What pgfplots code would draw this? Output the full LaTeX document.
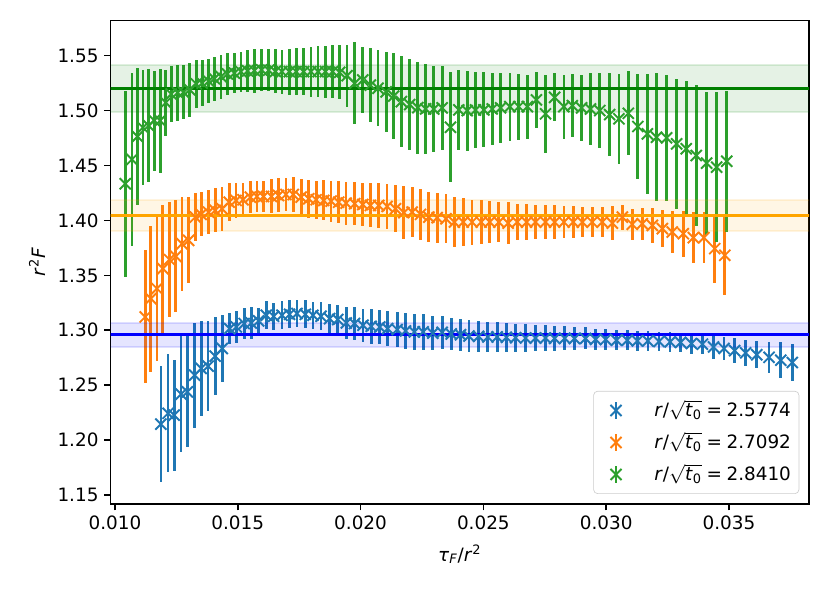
\documentclass[border=0pt]{standalone}
\usepackage{fontspec}
\setmainfont{DejaVu Sans}
\usepackage{pgfplots}
\pgfplotsset{compat=1.18}
\usepackage{pgfplotstable}
\definecolor{tabblue}{HTML}{1F77B4}
\definecolor{taborange}{HTML}{FF7F0E}
\definecolor{tabgreen}{HTML}{2CA02C}
\definecolor{lblue}{HTML}{0000FF}
\definecolor{lorange}{HTML}{FFA500}
\definecolor{lgreen}{HTML}{008000}
\newcommand\fnt{\fontsize{11.5}{13.8}\selectfont}
\newcommand\sfnt{\fontsize{8.1}{9.5}\selectfont}

\pgfplotstableread{
x y e
0.01187 1.2145 0.0530
0.01216 1.2243 0.0536
0.01241 1.2227 0.0506
0.01269 1.2418 0.0530
0.01295 1.2439 0.0506
0.01324 1.2591 0.0477
0.01351 1.2652 0.0436
0.01379 1.2673 0.0412
0.01408 1.2764 0.0355
0.01437 1.2834 0.0309
0.01467 1.3015 0.0141
0.01494 1.3030 0.0145
0.01526 1.3061 0.0145
0.01555 1.3066 0.0145
0.01585 1.3085 0.0121
0.01616 1.3136 0.0127
0.01646 1.3127 0.0125
0.01680 1.3136 0.0127
0.01711 1.3145 0.0127
0.01741 1.3152 0.0127
0.01775 1.3145 0.0127
0.01806 1.3136 0.0125
0.01839 1.3127 0.0127
0.01874 1.3106 0.0134
0.01907 1.3097 0.0136
0.01942 1.3066 0.0144
0.01975 1.3061 0.0152
0.02010 1.3045 0.0152
0.02043 1.3036 0.0159
0.02078 1.3030 0.0157
0.02110 1.3015 0.0156
0.02149 1.3006 0.0156
0.02183 1.2994 0.0162
0.02219 1.2985 0.0161
0.02255 1.2985 0.0162
0.02294 1.2973 0.0155
0.02332 1.2980 0.0147
0.02369 1.2966 0.0148
0.02407 1.2959 0.0147
0.02441 1.2947 0.0144
0.02481 1.2944 0.0141
0.02518 1.2939 0.0136
0.02556 1.2939 0.0136
0.02594 1.2935 0.0132
0.02631 1.2932 0.0129
0.02672 1.2929 0.0125
0.02712 1.2929 0.0116
0.02753 1.2929 0.0116
0.02790 1.2925 0.0112
0.02831 1.2927 0.0109
0.02871 1.2925 0.0106
0.02916 1.2925 0.0100
0.02957 1.2916 0.0098
0.02998 1.2916 0.0098
0.03042 1.2909 0.0091
0.03086 1.2909 0.0091
0.03127 1.2903 0.0091
0.03170 1.2903 0.0091
0.03215 1.2898 0.0086
0.03260 1.2894 0.0091
0.03303 1.2889 0.0086
0.03347 1.2879 0.0091
0.03392 1.2873 0.0091
0.03437 1.2848 0.0106
0.03480 1.2834 0.0106
0.03523 1.2814 0.0111
0.03568 1.2794 0.0121
0.03613 1.2777 0.0125
0.03663 1.2753 0.0141
0.03711 1.2727 0.0166
0.03758 1.2706 0.0166
}\bluedata

\pgfplotstableread{
x y e
0.01123 1.3121 0.0606
0.01146 1.3288 0.0664
0.01171 1.3379 0.0655
0.01195 1.3561 0.0582
0.01222 1.3643 0.0527
0.01248 1.3673 0.0509
0.01273 1.3788 0.0427
0.01300 1.3818 0.0391
0.01327 1.4030 0.0218
0.01351 1.4055 0.0200
0.01381 1.4075 0.0200
0.01408 1.4091 0.0200
0.01436 1.4106 0.0200
0.01465 1.4166 0.0173
0.01493 1.4182 0.0159
0.01521 1.4188 0.0155
0.01551 1.4212 0.0145
0.01578 1.4218 0.0145
0.01605 1.4218 0.0145
0.01637 1.4218 0.0155
0.01666 1.4227 0.0155
0.01696 1.4236 0.0150
0.01726 1.4236 0.0157
0.01758 1.4212 0.0162
0.01789 1.4197 0.0173
0.01819 1.4188 0.0175
0.01850 1.4182 0.0182
0.01880 1.4175 0.0186
0.01911 1.4166 0.0194
0.01941 1.4157 0.0197
0.01976 1.4152 0.0197
0.02009 1.4145 0.0197
0.02040 1.4136 0.0200
0.02074 1.4136 0.0205
0.02108 1.4127 0.0206
0.02142 1.4106 0.0212
0.02176 1.4071 0.0239
0.02210 1.4075 0.0227
0.02244 1.4055 0.0234
0.02278 1.4030 0.0227
0.02312 1.4025 0.0227
0.02348 1.4015 0.0225
0.02382 1.3985 0.0227
0.02418 1.3985 0.0221
0.02454 1.3985 0.0205
0.02491 1.3985 0.0197
0.02526 1.3985 0.0191
0.02563 1.3985 0.0182
0.02601 1.3975 0.0189
0.02638 1.3985 0.0166
0.02676 1.3985 0.0164
0.02712 1.3985 0.0156
0.02753 1.3985 0.0156
0.02790 1.3985 0.0152
0.02828 1.3985 0.0147
0.02866 1.3985 0.0147
0.02903 1.3985 0.0139
0.02943 1.3985 0.0136
0.02984 1.3985 0.0139
0.03025 1.3975 0.0152
0.03066 1.4030 0.0114
0.03106 1.3964 0.0144
0.03147 1.3970 0.0144
0.03188 1.3955 0.0159
0.03229 1.3925 0.0166
0.03269 1.3894 0.0189
0.03314 1.3879 0.0209
0.03355 1.3843 0.0232
0.03398 1.3843 0.0232
0.03442 1.3743 0.0309
0.03483 1.3682 0.0364
}\orangedata

\pgfplotstableread{
x y e
0.01042 1.4334 0.0845
0.01069 1.4555 0.0791
0.01092 1.4764 0.0627
0.01114 1.4845 0.0527
0.01137 1.4864 0.0518
0.01160 1.4909 0.0455
0.01184 1.4909 0.0473
0.01207 1.5073 0.0300
0.01229 1.5150 0.0255
0.01255 1.5164 0.0255
0.01279 1.5166 0.0245
0.01304 1.5191 0.0245
0.01331 1.5243 0.0218
0.01355 1.5250 0.0209
0.01381 1.5268 0.0200
0.01405 1.5291 0.0200
0.01432 1.5309 0.0200
0.01458 1.5334 0.0191
0.01486 1.5341 0.0182
0.01513 1.5355 0.0182
0.01540 1.5361 0.0191
0.01568 1.5364 0.0200
0.01597 1.5370 0.0191
0.01626 1.5368 0.0191
0.01653 1.5357 0.0200
0.01680 1.5355 0.0200
0.01710 1.5355 0.0209
0.01738 1.5355 0.0214
0.01768 1.5355 0.0214
0.01798 1.5355 0.0227
0.01827 1.5355 0.0232
0.01857 1.5355 0.0236
0.01886 1.5355 0.0245
0.01915 1.5348 0.0245
0.01945 1.5318 0.0282
0.01976 1.5248 0.0373
0.02009 1.5279 0.0300
0.02040 1.5232 0.0336
0.02071 1.5203 0.0345
0.02104 1.5171 0.0364
0.02135 1.5132 0.0391
0.02166 1.5082 0.0418
0.02200 1.5055 0.0418
0.02233 1.5027 0.0418
0.02265 1.5015 0.0409
0.02298 1.5015 0.0391
0.02332 1.5025 0.0382
0.02366 1.4848 0.0500
0.02400 1.5006 0.0368
0.02434 1.5000 0.0364
0.02468 1.5006 0.0345
0.02502 1.5006 0.0341
0.02536 1.5015 0.0327
0.02570 1.5025 0.0318
0.02608 1.5036 0.0309
0.02644 1.5036 0.0300
0.02679 1.5036 0.0291
0.02716 1.5097 0.0255
0.02753 1.4970 0.0355
0.02790 1.5121 0.0218
0.02828 1.5036 0.0291
0.02862 1.5045 0.0288
0.02900 1.5025 0.0300
0.02936 1.5015 0.0327
0.02974 1.5000 0.0339
0.03014 1.4964 0.0379
0.03052 1.4925 0.0409
0.03090 1.4975 0.0382
0.03129 1.4855 0.0477
0.03168 1.4788 0.0545
0.03205 1.4757 0.0582
0.03246 1.4752 0.0573
0.03287 1.4697 0.0591
0.03326 1.4652 0.0618
0.03367 1.4591 0.0641
0.03409 1.4521 0.0652
0.03450 1.4485 0.0682
0.03491 1.4539 0.0641
}\greendata

\begin{document}
\begin{tikzpicture}
\begin{axis}[
  name=ax,
  scale only axis,
  width=436.6pt, height=302.1pt,
  xmin=0.00982, xmax=0.03826,
  ymin=1.1418, ymax=1.5819,
  xtick={0.010,0.015,0.020,0.025,0.030,0.035},
  ytick={1.15,1.20,1.25,1.30,1.35,1.40,1.45,1.50,1.55},
  scaled x ticks=false, scaled y ticks=false,
  xticklabel style={/pgf/number format/.cd, fixed, fixed zerofill, precision=3},
  yticklabel style={/pgf/number format/.cd, fixed, fixed zerofill, precision=2},
  /pgf/number format/assume math mode=true,
  tick label style={font=\fnt},
  tick align=outside,
  major tick length=4pt,
  xtick pos=bottom, ytick pos=left,
  tick style={black, line width=0.92pt},
  axis line style={line width=0.92pt},
  xlabel={\textit{τ}$_{\mbox{\sfnt\itshape F}}$/\textit{r}$^{\mbox{\sfnt 2}}$},
  ylabel={\textit{r}$^{\mbox{\sfnt 2}}$\textit{F}},
  xlabel style={at={(axis description cs:0.5,-0.104)}, anchor=center},
  ylabel style={at={(axis description cs:-0.105,0.5)}, anchor=center},
  label style={font=\fnt},
  legend cell align=left,
  legend style={at={(0.986,0.0207)}, anchor=south east,
    draw=black!20, rounded corners=2.5pt, fill=white, fill opacity=0.8,
    text opacity=1, inner xsep=3pt, inner ysep=3.5pt, row sep=3pt,
    nodes={inner sep=2pt, text height=10pt, text depth=3pt},
    font=\fnt},
  legend image code/.code={
    \path[draw=none] (0pt,0pt) -- (33pt,0pt);
    \draw[line width=1.73pt] (11pt,-5.3pt) -- (11pt,5.3pt);
    \draw plot coordinates {(11pt,0pt)};
  },
]
\addplot[tabblue, only marks, mark=x, mark size=4.9pt, mark options={line width=1.2pt},
  error bars/.cd, y dir=both, y explicit, error mark=none,
  error bar style={line width=1.73pt, tabblue}]
  table[x=x, y=y, y error=e] {\bluedata};
\addlegendentry{\textit{r}/$\sqrt{\mbox{\textit{t}$_{\mbox{\sfnt 0}}$}}$\hspace{0.25em}=\hspace{0.25em}2.5774}
\addplot[taborange, only marks, mark=x, mark size=4.9pt, mark options={line width=1.2pt},
  error bars/.cd, y dir=both, y explicit, error mark=none,
  error bar style={line width=1.73pt, taborange}]
  table[x=x, y=y, y error=e] {\orangedata};
\addlegendentry{\textit{r}/$\sqrt{\mbox{\textit{t}$_{\mbox{\sfnt 0}}$}}$\hspace{0.25em}=\hspace{0.25em}2.7092}
\addplot[tabgreen, only marks, mark=x, mark size=4.9pt, mark options={line width=1.2pt},
  error bars/.cd, y dir=both, y explicit, error mark=none,
  error bar style={line width=1.73pt, tabgreen}]
  table[x=x, y=y, y error=e] {\greendata};
\addlegendentry{\textit{r}/$\sqrt{\mbox{\textit{t}$_{\mbox{\sfnt 0}}$}}$\hspace{0.25em}=\hspace{0.25em}2.8410}

% bands and horizontal lines
\addplot[forget plot, draw=lblue, draw opacity=0.12, fill=lblue, fill opacity=0.1, line width=1.1pt]
  coordinates {(0.009,1.2850) (0.039,1.2850) (0.039,1.3066) (0.009,1.3066)};
\addplot[forget plot, draw=lblue, line width=1.73pt] coordinates {(0.009,1.2958) (0.039,1.2958)};
\addplot[forget plot, draw=lorange, draw opacity=0.12, fill=lorange, fill opacity=0.1, line width=1.1pt]
  coordinates {(0.009,1.3905) (0.039,1.3905) (0.039,1.4185) (0.009,1.4185)};
\addplot[forget plot, draw=lorange, line width=1.73pt] coordinates {(0.009,1.4045) (0.039,1.4045)};
\addplot[forget plot, draw=lgreen, draw opacity=0.12, fill=lgreen, fill opacity=0.1, line width=1.1pt]
  coordinates {(0.009,1.4985) (0.039,1.4985) (0.039,1.5415) (0.009,1.5415)};
\addplot[forget plot, draw=lgreen, line width=1.73pt] coordinates {(0.009,1.5203) (0.039,1.5203)};
\end{axis}
\path ([shift={(-69.1pt,-56.9pt)}]ax.south west) rectangle ([shift={(13.1pt,12.9pt)}]ax.north east);
\end{tikzpicture}
\end{document}
